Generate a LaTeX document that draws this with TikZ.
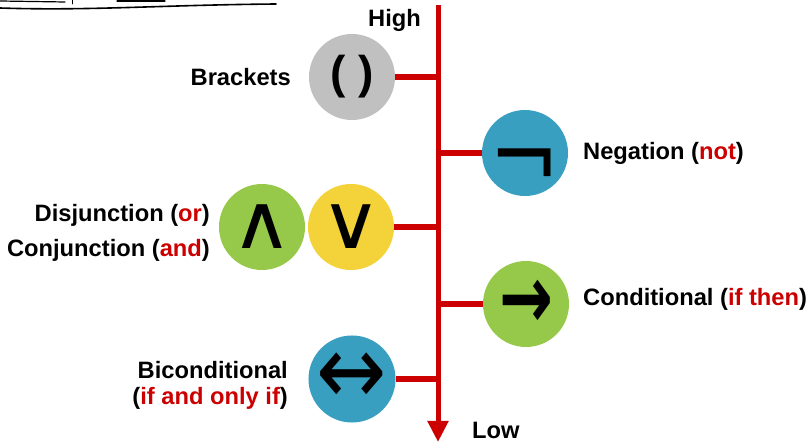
\documentclass[tikz,border=0pt]{standalone}
\usepackage{fontspec}
\usepackage{graphicx}
\setmainfont{Liberation Sans}
\newfontfamily\symfont{DejaVu Sans}
\usetikzlibrary{arrows.meta}
\definecolor{lred}{HTML}{CC0000}
\definecolor{cgray}{HTML}{C0C0C0}
\definecolor{cblue}{HTML}{399FC0}
\definecolor{cgreen}{HTML}{96C84A}
\definecolor{cyellow}{HTML}{F4D23A}
\begin{document}
\begin{tikzpicture}[x=1pt,y=-1pt,
  lbl/.style={font=\fontsize{23.7}{28}\selectfont\bfseries, inner sep=0pt},
  opc/.style={circle, minimum size=86pt, inner sep=0pt, text=black},
  symb/.style={inner sep=0pt, text=black},
  branch/.style={draw=lred, line width=6pt},
  trunk/.style={draw=lred, line width=5pt, -{Triangle[width=20pt,length=21pt]}},
  hand/.style={draw=black, line width=1.6pt, line cap=round}
]
\useasboundingbox (0,0) rectangle (812,443);
% handwriting remnants
\draw[hand] (0,8) .. controls (90,11) and (160,5) .. (276,4);
\draw[hand, line width=1.2pt] (0,1) -- (65,2);
\draw[hand, line width=1.2pt] (117,1) -- (165,1);
\draw[hand, line width=1pt] (72,0) -- (72,4);
% trunk
\coordinate (top) at (438,5);
\coordinate (bot) at (438,442);
\draw[trunk] (top) -- (bot);
% operator circles
\node[opc, fill=cgray] (brk) at (352,77) {\fontsize{46}{46}\selectfont\bfseries ( )};
\node[opc, fill=cblue] (neg) at (525,153) {};
\node[symb] (negsym) at ([yshift=-17pt]neg.center) {\makebox[30pt]{\symfont\fontsize{60}{60}\selectfont\scalebox{1.4}[1.65]{¬}}};
\node[opc, fill=cgreen] (conj) at (262,227) {\symfont\fontsize{56}{56}\selectfont\scalebox{1.5}[1.35]{∧}};
\node[opc, fill=cyellow] (disj) at (351,227) {\symfont\fontsize{56}{56}\selectfont\scalebox{1.5}[1.35]{∨}};
\node[opc, fill=cgreen] (cond) at (526,304) {\symfont\bfseries\fontsize{56}{56}\selectfont\scalebox{1.15}[1.6]{→}};
\node[opc, fill=cblue] (bicond) at (352,379) {\symfont\fontsize{70}{70}\selectfont\scalebox{1.2}[1.4]{↔}};
% branches
\draw[branch] (brk.east) -- (brk.east -| top);
\draw[branch] (neg.west -| top) -- (neg.west);
\draw[branch] (disj.east) -- (disj.east -| top);
\draw[branch] (cond.west -| top) -- (cond.west);
\draw[branch] (bicond.east) -- (bicond.east -| top);
% labels
\node[lbl, anchor=base west] (high) at (368,27) {High};
\node[lbl, anchor=base west] (low) at (472,439) {Low};
\node[lbl, anchor=base east] (brklbl) at (291,86) {Brackets};
\node[lbl, anchor=base west] (neglbl) at (583,160) {Negation (\textcolor{lred}{not})};
\node[lbl, anchor=base east] (dislbl) at (210,222) {Disjunction (\textcolor{lred}{or})};
\node[lbl, anchor=base east] (conlbl) at (210,257) {Conjunction (\textcolor{lred}{and})};
\node[lbl, anchor=base west] (cndlbl) at (583,306) {Conditional (\textcolor{lred}{if then})};
\node[lbl, anchor=base east] (biclbl) at (288,379) {Biconditional};
\node[lbl, anchor=base east] (biclbl2) at (288,405) {(\textcolor{lred}{if and only if})};
\end{tikzpicture}
\end{document}
